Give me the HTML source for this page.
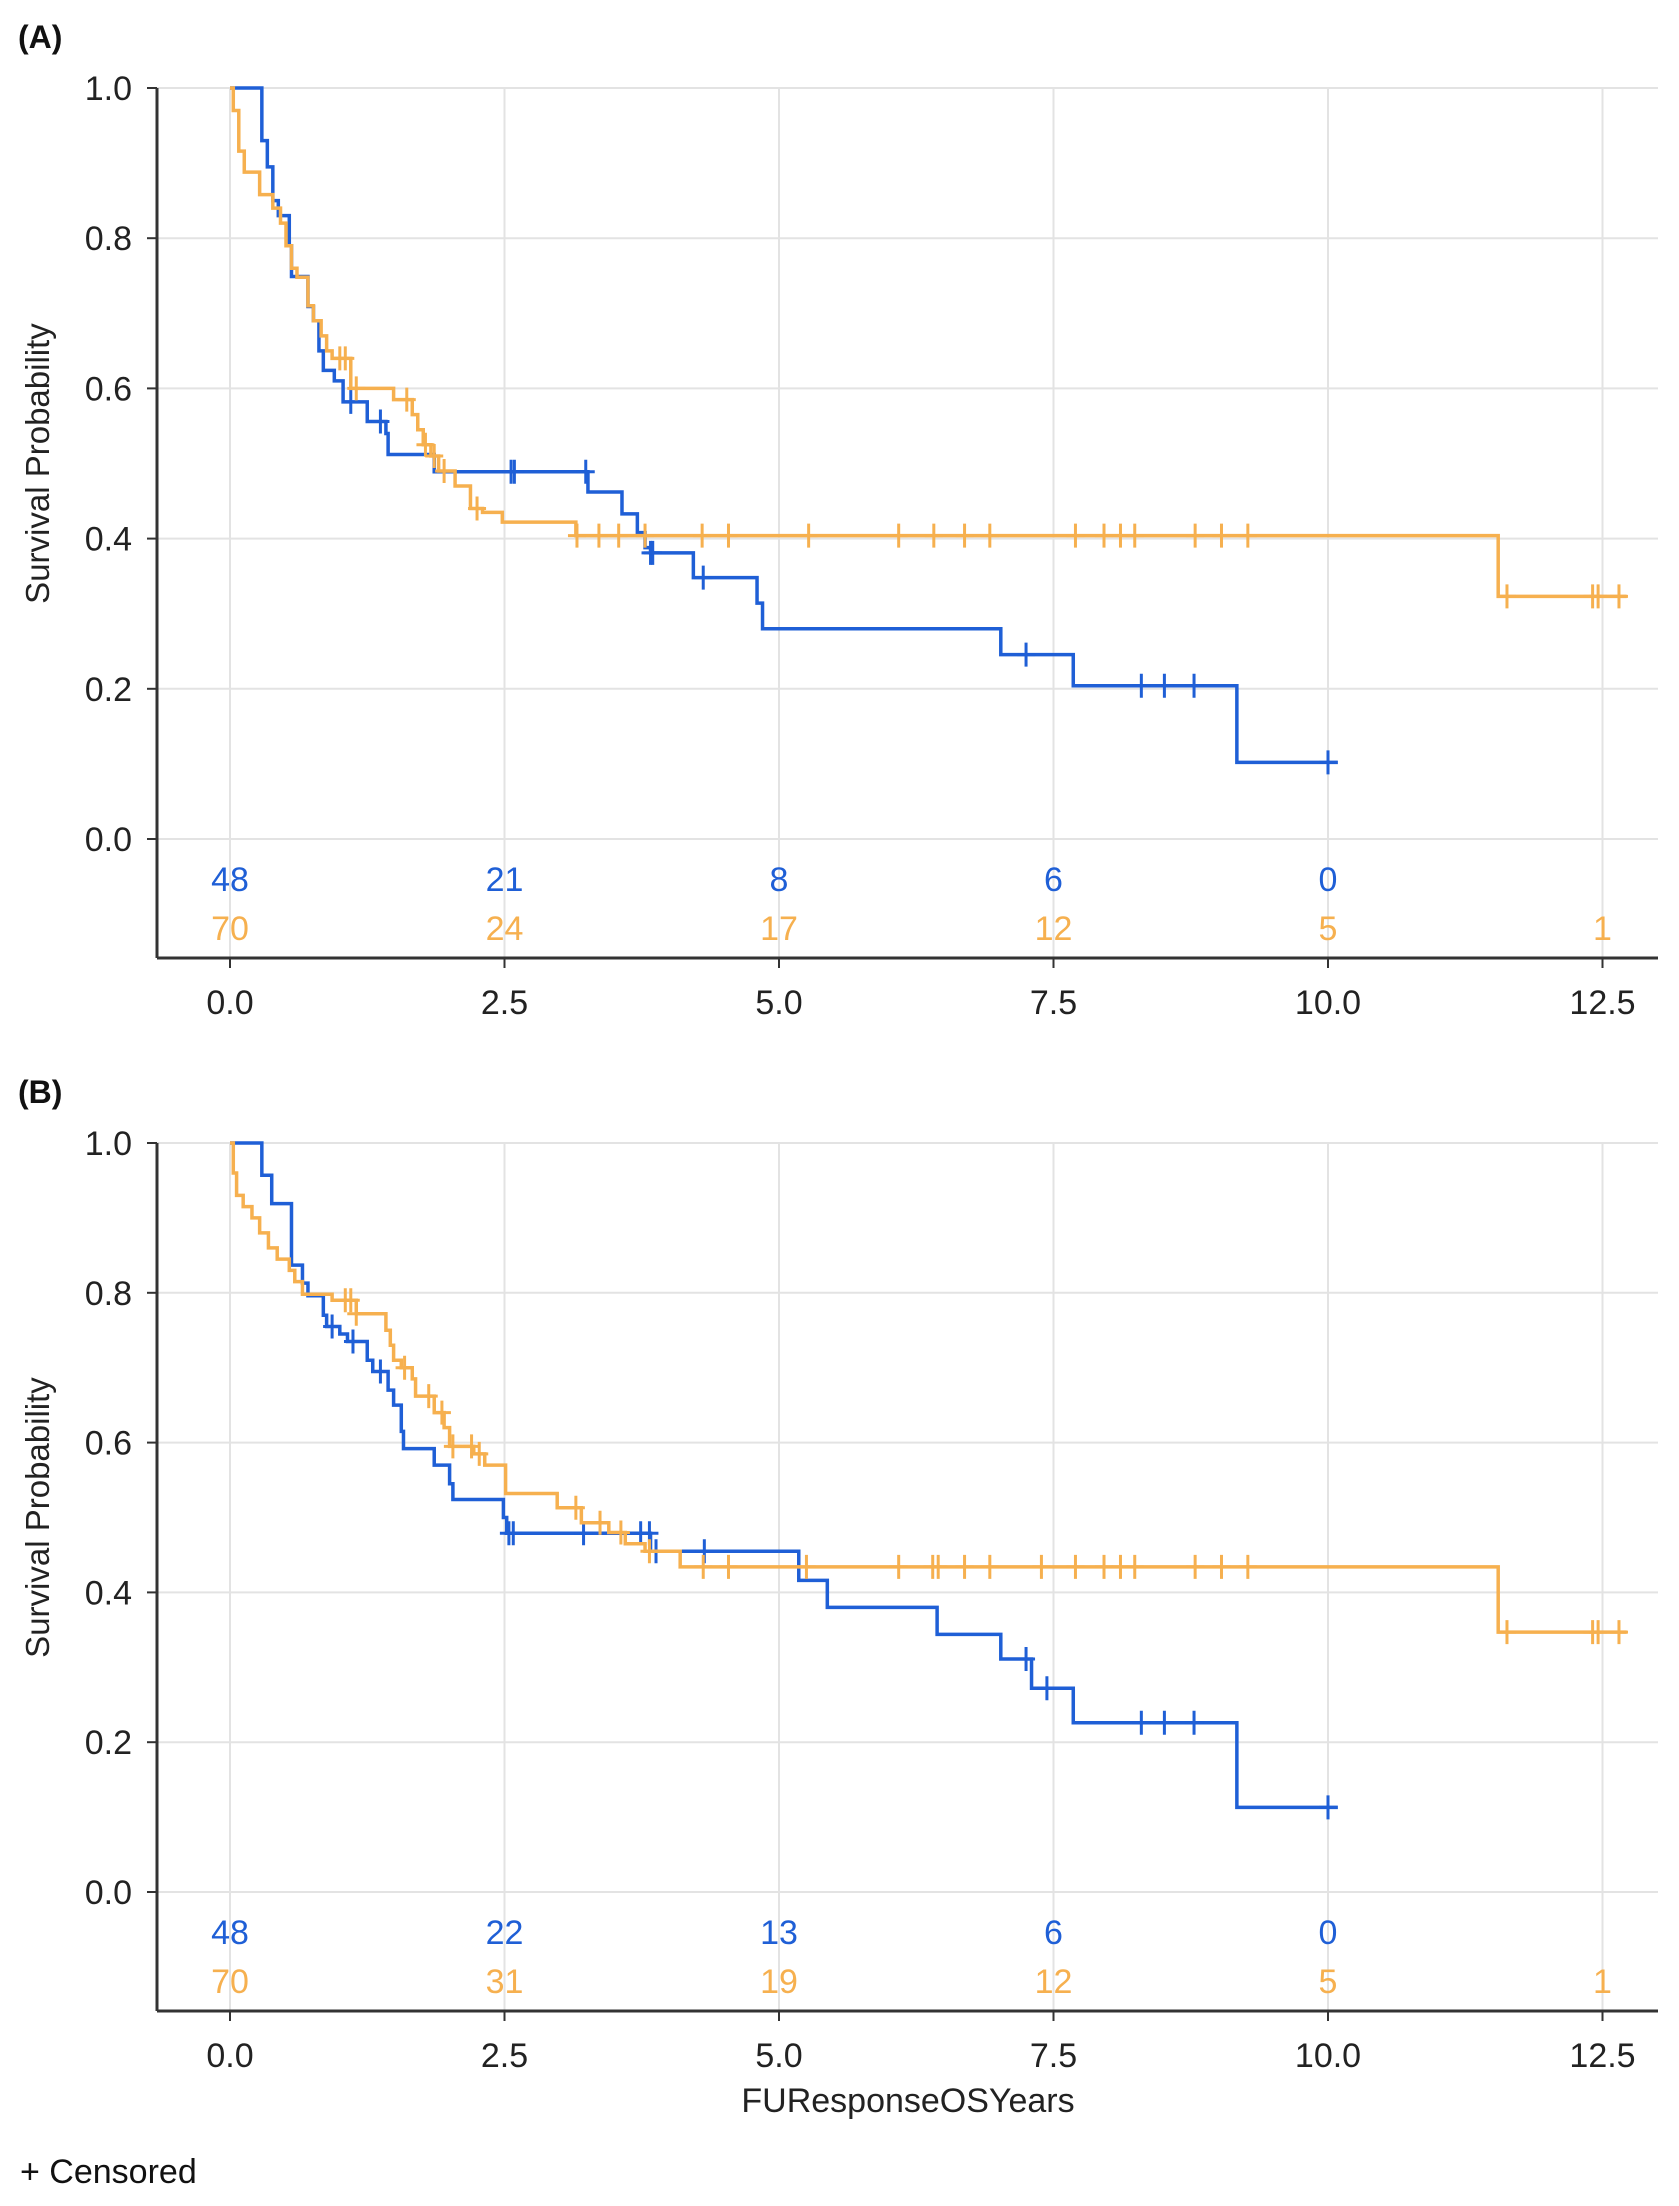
<!DOCTYPE html>
<html><head><meta charset="utf-8"><style>
html,body{margin:0;padding:0;background:#fff}
svg{display:block;font-family:"Liberation Sans",sans-serif}
</style></head><body>
<svg id="chart" width="1679" height="2206" viewBox="0 0 1679 2206" xmlns="http://www.w3.org/2000/svg"></svg>
<script>
const xTicks=[0,2.5,5,7.5,10,12.5];
const xTickLabels=["0.0","2.5","5.0","7.5","10.0","12.5"];
const yTicks=[0,0.2,0.4,0.6,0.8,1.0];
const yTickLabels=["0.0","0.2","0.4","0.6","0.8","1.0"];

const aBlueT=[0.29,0.34,0.39,0.44,0.54,0.56,0.71,0.76,0.81,0.85,0.95,1.03,1.25,1.42,1.44,1.86,3.26,3.57,3.71,3.78,3.83,4.22,4.80,4.85,7.02,7.68,9.17];
const aBlueS=[0.93,0.895,0.85,0.83,0.79,0.749,0.709,0.69,0.65,0.624,0.61,0.582,0.556,0.54,0.512,0.489,0.462,0.433,0.408,0.388,0.381,0.348,0.314,0.280,0.2455,0.204,0.102];
const aBlueC=[1.10,1.37,2.56,2.59,3.24,3.83,3.85,4.31,7.25,8.30,8.51,8.78,10.0];
const aBlueEnd=10.09;
const aOrT=[0.03,0.08,0.13,0.27,0.39,0.46,0.51,0.56,0.61,0.71,0.76,0.83,0.88,0.93,1.10,1.49,1.66,1.71,1.76,1.83,1.90,2.05,2.19,2.30,2.48,3.15];
const aOrS=[0.97,0.916,0.888,0.858,0.84,0.82,0.79,0.76,0.748,0.71,0.69,0.67,0.65,0.64,0.60,0.585,0.565,0.545,0.525,0.51,0.49,0.47,0.44,0.435,0.422,0.404];
const aOrC=[1.0,1.05,1.15,1.61,1.78,1.86,1.95,2.25,3.16,3.36,3.54,3.78,4.30,4.54,5.27,6.09,6.41,6.69,6.92,7.70,7.96,8.11,8.24,8.79,9.03,9.27,11.63,12.41,12.46,12.65];
const aOrEnd=12.72;
const aOrFinalT=[11.55];const aOrFinalS=[0.323];

const bBlueT=[0.29,0.38,0.56,0.66,0.71,0.85,0.88,1.0,1.07,1.25,1.30,1.44,1.49,1.56,1.58,1.86,2.0,2.03,2.49,2.52,3.83,5.18,5.44,6.44,7.02,7.30,7.68,9.17];
const bBlueS=[0.957,0.919,0.837,0.813,0.796,0.77,0.755,0.745,0.735,0.71,0.695,0.67,0.65,0.615,0.592,0.57,0.545,0.524,0.50,0.479,0.455,0.416,0.38,0.344,0.311,0.272,0.226,0.113];
const bBlueC=[0.93,1.12,1.37,2.54,2.58,3.22,3.74,3.82,3.88,4.32,7.25,7.44,8.30,8.51,8.78,10.0];
const bBlueEnd=10.09;
const bOrT=[0.03,0.06,0.12,0.20,0.27,0.35,0.43,0.54,0.59,0.66,0.93,1.15,1.42,1.46,1.49,1.56,1.66,1.69,1.86,1.95,2.0,2.22,2.32,2.51,2.98,3.20,3.45,3.60,3.78,4.10,11.55];
const bOrS=[0.96,0.93,0.915,0.90,0.88,0.86,0.845,0.83,0.815,0.798,0.79,0.772,0.75,0.73,0.71,0.70,0.685,0.662,0.64,0.62,0.595,0.585,0.57,0.532,0.513,0.493,0.48,0.465,0.455,0.434,0.347];
const bOrC=[1.05,1.10,1.15,1.59,1.81,1.93,2.03,2.20,2.27,3.15,3.37,3.56,3.82,4.31,4.54,5.25,6.09,6.40,6.45,6.69,6.92,7.39,7.70,7.96,8.11,8.24,8.79,9.03,9.27,11.63,12.41,12.46,12.65];
const bOrEnd=12.72;

const aRiskBlue=[48,21,8,6,0];
const aRiskOrange=[70,24,17,12,5,1];
const bRiskBlue=[48,22,13,6,0];
const bRiskOrange=[70,31,19,12,5,1];

const NS="http://www.w3.org/2000/svg";
const svg=document.getElementById("chart");
const BLUE="#1f5fd6",ORANGE="#f6b04f";
const X0=230,XS=109.8,AXL=157,AXR=1658;
function sx(t){return X0+t*XS;}
function mk(tag,attrs,parent){const e=document.createElementNS(NS,tag);for(const k in attrs)e.setAttribute(k,attrs[k]);(parent||svg).appendChild(e);return e;}
function txt(s,x,y,attrs,parent){const e=mk("text",Object.assign({x:x,y:y},attrs),parent);e.textContent=s;return e;}

function stepVal(T,S,t){let v=1;for(let i=0;i<T.length;i++){if(T[i]<=t)v=S[i];}return v;}

function panel(name,label,yTop,y0,T,S,C,end,riskB,riskO){
  const g=mk("g",{});
  
  
  const sy=v=>y0-v*(y0-yTop);
  const axB=y0+119;
  yTicks.forEach((v,i)=>{
    const l=mk("line",{x1:AXL,x2:AXR,y1:sy(v),y2:sy(v),stroke:"#e3e3e3","stroke-width":2},g);
    
    
    mk("line",{x1:AXL-10,x2:AXL,y1:sy(v),y2:sy(v),stroke:"#333","stroke-width":2},g);
    const t=txt(yTickLabels[i],132,sy(v)+12,{"font-size":34,"text-anchor":"end",fill:"#222"},g);
    
    
  });
  xTicks.forEach((v,i)=>{
    const l=mk("line",{x1:sx(v),x2:sx(v),y1:yTop,y2:axB,stroke:"#e3e3e3","stroke-width":2},g);
    
    
    mk("line",{x1:sx(v),x2:sx(v),y1:axB,y2:axB+10,stroke:"#333","stroke-width":2},g);
    const t=txt(xTickLabels[i],sx(v),axB+56,{"font-size":34,"text-anchor":"middle",fill:"#222"},g);
    
    
  });
  const ay=mk("line",{x1:AXL,x2:AXL,y1:yTop,y2:axB,stroke:"#333","stroke-width":3},g);
  
  
  const ax=mk("line",{x1:AXL,x2:AXR,y1:axB,y2:axB,stroke:"#333","stroke-width":3},g);
  
  
  const pl=txt(label,18,yTop-40,{"font-size":32,"font-weight":"bold",fill:"#111"},g);
  
  
  const yt=txt("Survival Probability",0,0,{"font-size":33,"text-anchor":"middle",fill:"#222",transform:`translate(49,${(yTop+y0)/2}) rotate(-90)`},g);
  
  
  [[T[0],S[0],C[0],end[0],BLUE,'blue'],[T[1],S[1],C[1],end[1],ORANGE,'orange']].forEach(([tt,ss,cc,e,col,nm])=>{
    let d=`M${sx(0)},${sy(1)}`;
    for(let i=0;i<tt.length;i++){d+=` H${sx(tt[i])} V${sy(ss[i])}`;}
    d+=` H${sx(e)}`;
    const p=mk("path",{d:d,fill:"none",stroke:col,"stroke-width":3.5},g);
    
    
    cc.forEach(c=>{
      const y=sy(stepVal(tt,ss,c));
      const m=mk("path",{d:`M${sx(c)},${y-12} V${y+12} M${sx(c)-9},${y} H${sx(c)+9}`,stroke:col,"stroke-width":3,fill:"none"},g);
      
      
    });
  });
  riskB.forEach((n,i)=>{
    const t=txt(String(n),sx(xTicks[i]),y0+52,{"font-size":34,"text-anchor":"middle",fill:BLUE},g);
    
    
  });
  riskO.forEach((n,i)=>{
    const t=txt(String(n),sx(xTicks[i]),y0+101,{"font-size":34,"text-anchor":"middle",fill:ORANGE},g);
    
    
  });
}

const aOrTall=aOrT.concat(aOrFinalT), aOrSall=aOrS.concat(aOrFinalS);
panel('panel-a',"(A)",88,839,[aBlueT,aOrTall],[aBlueS,aOrSall],[aBlueC,aOrC],[aBlueEnd,aOrEnd],aRiskBlue,aRiskOrange);
panel('panel-b',"(B)",1143,1892,[bBlueT,bOrT],[bBlueS,bOrS],[bBlueC,bOrC],[bBlueEnd,bOrEnd],bRiskBlue,bRiskOrange);

const xt=txt("FUResponseOSYears",908,2112,{"font-size":34,"text-anchor":"middle",fill:"#222"});


const cz=txt("+ Censored",20,2183,{"font-size":34,fill:"#111"});


</script>
</body></html>
